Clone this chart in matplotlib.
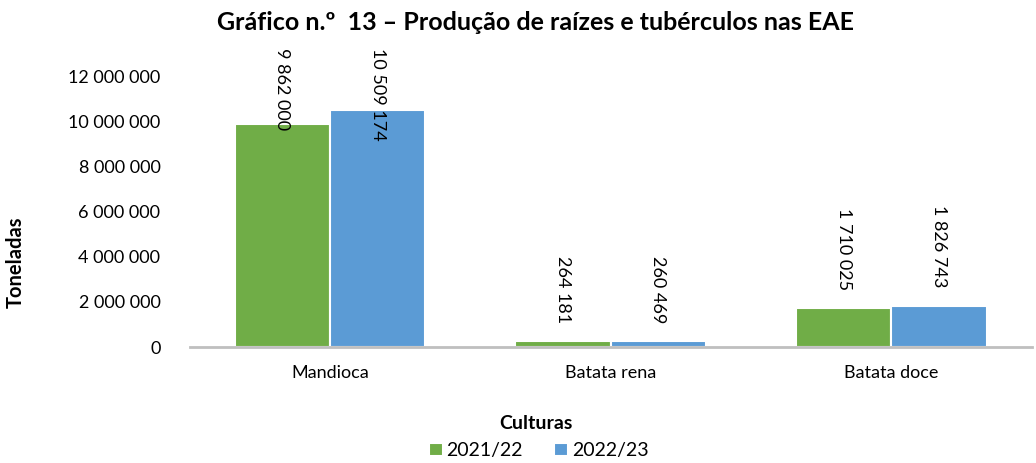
import numpy as np
import matplotlib
matplotlib.use("Agg")
import matplotlib.pyplot as plt
from matplotlib.ticker import FuncFormatter

plt.rcParams['font.family'] = ['Lato', 'DejaVu Sans']

culturas = ["Mandioca", "Batata rena", "Batata doce"]
prod_2122 = [9862000, 264181, 1710025]
prod_2223 = [10509174, 260469, 1826743]
series_names = ["2021/22", "2022/23"]

green = "#70AD47"
blue = "#5B9BD5"

fig = plt.figure(figsize=(10.36, 4.63), dpi=100)
ax = fig.add_axes([0.183, 0.2505, 0.813, 0.6825])

x = np.arange(len(culturas))
w = 0.34
b1 = ax.bar(x - w/2, prod_2122, w, color=green, edgecolor="white", linewidth=1.5, label=series_names[0])
b2 = ax.bar(x + w/2, prod_2223, w, color=blue, edgecolor="white", linewidth=1.5, label=series_names[1])

ax.set_xlim(-0.5, 2.5)
ax.set_ylim(0, 14000000)
ax.set_yticks(np.arange(0, 12000001, 2000000))

def fmt(v, pos=None):
    return f"{int(round(v)):,}".replace(",", " ")

ax.yaxis.set_major_formatter(FuncFormatter(fmt))
ax.set_xticks(x)
ax.set_xticklabels(culturas)
ax.tick_params(axis="both", length=0, labelsize=13, colors="#000000")
ax.tick_params(axis="y", pad=21)
ax.tick_params(axis="x", pad=13)

for s in ["top", "right", "left"]:
    ax.spines[s].set_visible(False)
ax.spines["bottom"].set_color("#BFBFBF")
ax.spines["bottom"].set_linewidth(2)

# data labels, rotated; tall ones are pushed down to stay in the plot area
label_cap = 13250000
for bars in (b1, b2):
    for rect in bars:
        h = rect.get_height()
        cx = rect.get_x() + rect.get_width()/2
        if h > 9000000:
            ax.text(cx, label_cap, fmt(h), rotation=270, ha="center", va="top", fontsize=13)
        else:
            ax.annotate(fmt(h), (cx, h), xytext=(0, 13), textcoords="offset points",
                        rotation=270, ha="center", va="bottom", fontsize=13)

fig.text(0.517, 0.951, "Gráfico n.º  13 – Produção de raízes e tubérculos nas EAE",
         ha="center", va="center", fontsize=18, fontweight="bold")
fig.text(0.015, 0.434, "Toneladas", rotation=90, ha="center", va="center",
         fontsize=14.5, fontweight="bold")
fig.text(0.517, 0.086, "Culturas", ha="center", va="center", fontsize=14, fontweight="bold")

fig.legend(handles=[b1, b2], labels=series_names, loc="center", bbox_to_anchor=(0.52, 0.026),
           ncol=2, frameon=False, fontsize=14, handlelength=0.7, handleheight=0.7,
           handletextpad=0.2, columnspacing=1.6, borderpad=0)

fig.savefig("out.png", dpi=100)
